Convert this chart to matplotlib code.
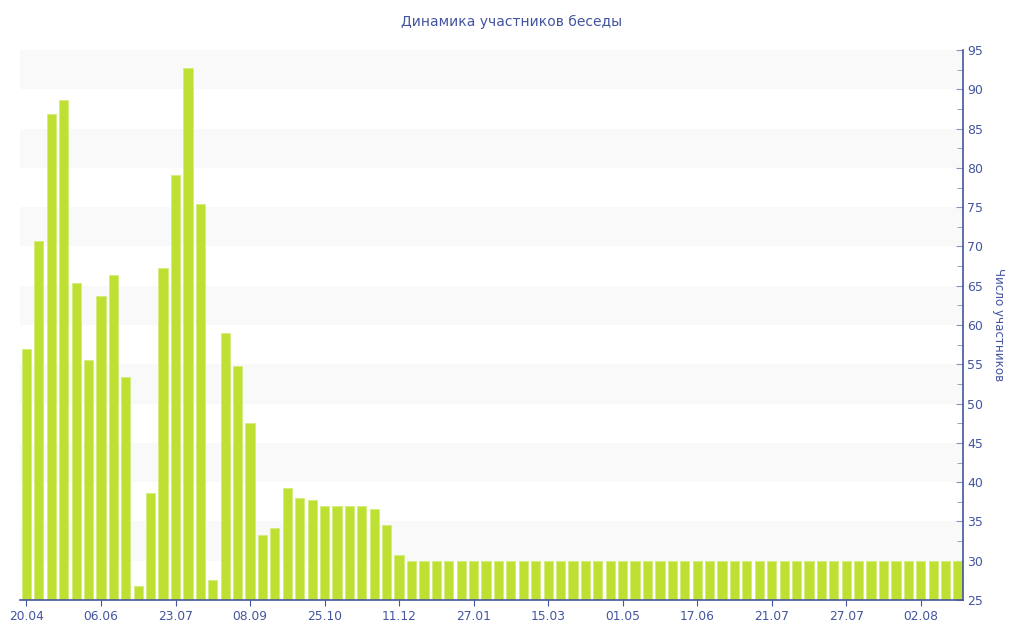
import matplotlib
matplotlib.use("Agg")
import matplotlib.pyplot as plt
from matplotlib.ticker import MultipleLocator

values = [56.9, 70.7, 86.9, 88.7, 65.4, 55.5, 63.7, 66.4, 53.4, 26.8,
          38.6, 67.3, 79.1, 92.7, 75.4, 27.5, 59.0, 54.8, 47.5, 33.3,
          34.2, 39.3, 38.0, 37.7, 37.0, 37.0, 37.0, 37.0, 36.6, 34.5,
          30.7] + [30.0] * 45
tick_labels = ["20.04", "06.06", "23.07", "08.09", "25.10", "11.12", "27.01",
               "15.03", "01.05", "17.06", "21.07", "27.07", "02.08"]
title = "Динамика участников беседы"
y_label = "Число участников"

blue = "#4455a0"
bar_color = "#bde032"

fig = plt.figure(figsize=(10.24, 6.4), dpi=100)
ax = fig.add_axes([20/1024, 40/640, 943/1024, 550/640])

ymin, ymax = 25, 95
for lo in range(30, 95, 10):
    ax.axhspan(lo, lo + 5, color="#f9f9f9", zorder=0, lw=0)

x = list(range(len(values)))
ax.bar(x, [v - ymin for v in values], bottom=ymin, width=0.74, color=bar_color,
       edgecolor="#d4ec7a", linewidth=0.6, zorder=2)

ax.set_xlim(-0.52, len(values) - 0.6)
ax.set_ylim(ymin, ymax)

ax.set_xticks(x[::6])
ax.set_xticklabels(tick_labels)
ax.yaxis.tick_right()
ax.yaxis.set_label_position("right")
ax.yaxis.set_major_locator(MultipleLocator(5))
ax.yaxis.set_minor_locator(MultipleLocator(2.5))
ax.tick_params(axis="y", which="major", direction="in", length=5, color="#8a93b8",
               labelcolor=blue, labelsize=9, pad=3)
ax.tick_params(axis="y", which="minor", direction="in", length=4, color="#8a93b8")
ax.tick_params(axis="x", direction="out", length=4, color=blue, labelcolor=blue,
               labelsize=8.8, pad=3)
for side in ["top", "left"]:
    ax.spines[side].set_visible(False)
ax.spines["bottom"].set_color(blue)
ax.spines["right"].set_color(blue)
ax.spines["bottom"].set_linewidth(1.2)
ax.spines["right"].set_linewidth(1.2)

ax.set_ylabel(y_label, rotation=-90, color=blue, fontsize=8.6, labelpad=16)
fig.text(512/1024, 1 - 22/640, title, ha="center", va="center", color=blue, fontsize=10)

fig.savefig("out.png", dpi=100)
